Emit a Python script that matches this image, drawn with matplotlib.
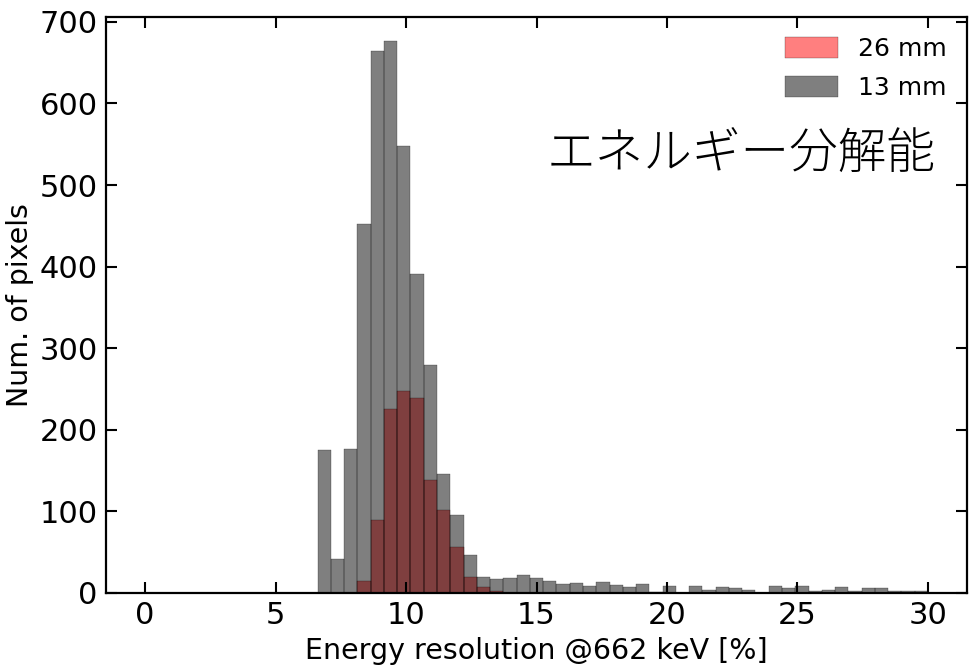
import numpy as np
import matplotlib
matplotlib.use("Agg")
import matplotlib.pyplot as plt

# bin edges: 60 edges from 0 to 30 (59 bins)
bin_edges = np.linspace(0, 30, 60)

counts_26mm = [0]*16 + [15, 90, 225, 248, 239, 138, 102, 56, 20, 7, 2] + [0]*32
counts_13mm = [0]*13 + [175, 42, 176, 452, 664, 676, 548, 391, 280, 146, 95, 47,
                        20, 17, 18, 22, 18, 15, 11, 12, 9, 13, 10, 7, 11, 1, 8, 0,
                        8, 4, 7, 6, 4, 0, 8, 6, 8, 2, 4, 7, 3, 6, 6, 3, 2, 3]

labels = ["26 mm", "13 mm"]
xlabel = "Energy resolution @662 keV [%]"
ylabel = "Num. of pixels"
title_jp = "エネルギー分解能"

plt.rcParams['font.family'] = ['DejaVu Sans']
fig = plt.figure(figsize=(9.69, 6.68), dpi=100)
ax = fig.add_axes([0.1094, 0.1123, 0.8886, 0.8623])

left = bin_edges[:-1]
widths = np.diff(bin_edges)
ax.bar(left, counts_26mm, width=widths, align='edge', color='red', alpha=0.5,
       edgecolor='black', linewidth=0.35, label=labels[0])
ax.bar(left, counts_13mm, width=widths, align='edge', color='black', alpha=0.5,
       edgecolor='black', linewidth=0.35, label=labels[1])

ax.set_xlim(-1.5, 31.5)
ax.set_ylim(0, 706)
ax.set_xticks([0, 5, 10, 15, 20, 25, 30])
ax.set_yticks([0, 100, 200, 300, 400, 500, 600, 700])
ax.tick_params(direction='in', top=True, right=True, length=8, width=1.5,
               labelsize=22, pad=6)
for s in ax.spines.values():
    s.set_linewidth(1.6)

ax.set_xlabel(xlabel, fontsize=20.5, labelpad=5)
ax.set_ylabel(ylabel, fontsize=20.5, labelpad=4)

leg = ax.legend(loc='upper right', frameon=False, fontsize=18,
                handlelength=2.15, handleheight=0.9, labelspacing=0.6,
                handletextpad=0.8, borderaxespad=0.4)

ax.text(0.963, 0.76, title_jp, transform=ax.transAxes, ha='right', va='center',
        fontsize=35, fontweight='light',
        family=['Noto Sans CJK JP', 'DejaVu Sans'])

fig.savefig("out.png", dpi=100)
